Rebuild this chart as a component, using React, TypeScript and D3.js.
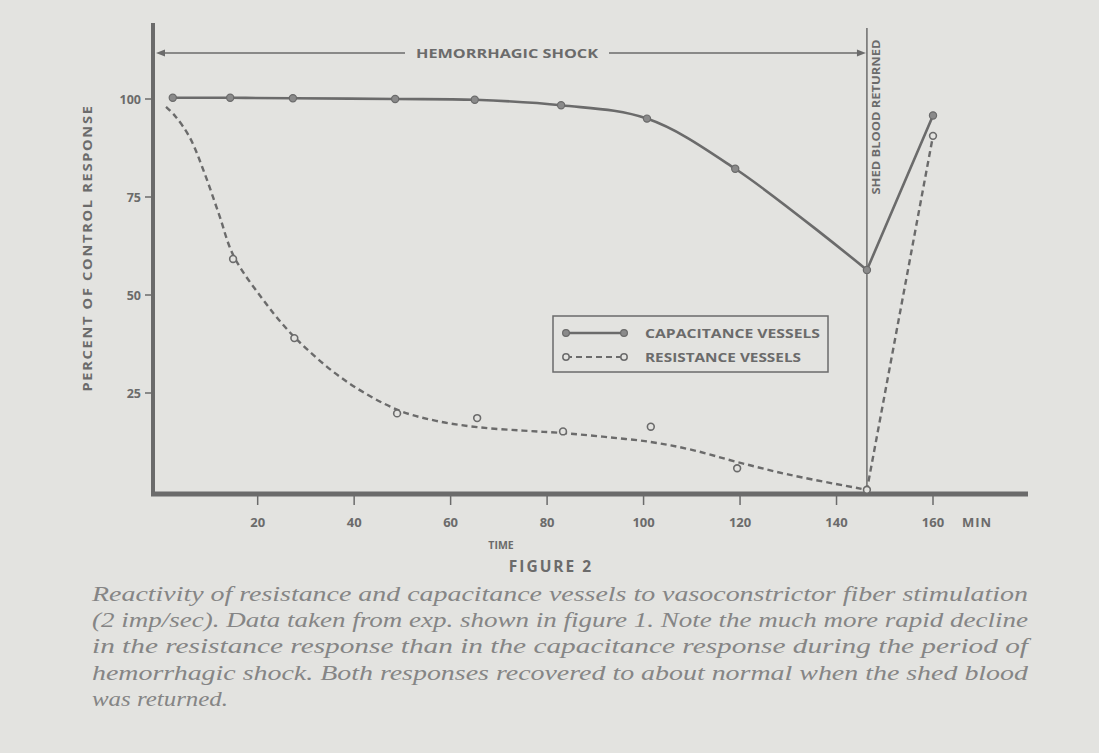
import React from "react";
import * as d3 from "d3";

// capacitance vessels (filled dots, solid line)
const capTime = [2.4, 14.3, 27.3, 48.5, 65, 82.9, 100.7, 119, 146.3, 160];
const capValue = [100.3, 100.3, 100.2, 100, 99.8, 98.4, 95, 82.2, 56.4, 95.8];

// resistance vessels (open dots, dashed line)
const resTime = [14.9, 27.6, 48.9, 65.5, 83.3, 101.5, 119.4, 146.3, 160];
const resValue = [59.2, 39, 19.8, 18.6, 15.2, 16.4, 5.8, 0.3, 90.6];

// hand drawn fit through the resistance points
const resFitTime = [1, 3, 6, 9, 12, 15, 21, 27.6, 38, 49, 57, 65.5, 75, 83, 92, 101.5, 110, 119.4, 130.4, 146.3];
const resFitValue = [98, 95.5, 90, 81, 70.5, 60, 49, 39.3, 28.3, 20.7, 17.9, 16.3, 15.4, 14.8, 13.8, 12.5, 10.5, 7.4, 4.1, 0.3];

const xTicks = [20, 40, 60, 80, 100, 120, 140, 160];
const yTicks = [25, 50, 75, 100];
const shedTime = 146.3;

const captionLines = [
  "Reactivity of resistance and capacitance vessels to vasoconstrictor fiber stimulation",
  "(2 imp/sec). Data taken from exp. shown in figure 1. Note the much more rapid decline",
  "in the resistance response than in the capacitance response during the period of",
  "hemorrhagic shock. Both responses recovered to about normal when the shed blood",
  "was returned.",
];

const ink = "#6b6b6b";
const bg = "#e3e3e0";
const sans = "'Open Sans', 'DejaVu Sans', sans-serif";

export default function App() {
  const x = d3.scaleLinear().domain([0, 160]).range([161.2, 933]);
  const y = d3.scaleLinear().domain([0, 100]).range([491, 99]);

  const axisX = 153;
  const axisY = 494;

  const smooth = d3
    .line<[number, number]>()
    .x((d) => x(d[0]))
    .y((d) => y(d[1]))
    .curve(d3.curveCatmullRom.alpha(0.5));
  const straight = d3
    .line<[number, number]>()
    .x((d) => x(d[0]))
    .y((d) => y(d[1]));

  const capPts: [number, number][] = capTime.map((t, i) => [t, capValue[i]]);
  const resFit: [number, number][] = resFitTime.map((t, i) => [t, resFitValue[i]]);
  const last = resTime.length - 1;

  const capPath = smooth(capPts.slice(0, capPts.length - 1)) + straight(capPts.slice(capPts.length - 2)).replace("M", "L");
  const resPath =
    smooth(resFit) +
    straight([
      resFit[resFit.length - 1],
      [resTime[last], resValue[last]],
    ]).replace("M", "L");

  const xs = x(shedTime);

  return (
    <svg width={1099} height={753} style={{ position: "absolute", left: 0, top: 0, background: bg }}>
      <rect x={0} y={0} width={1099} height={753} fill={bg} />

      {/* axes */}
      <line x1={axisX} y1={23} x2={axisX} y2={axisY + 2} stroke={ink} strokeWidth={4} />
      <line x1={axisX - 2} y1={axisY} x2={1028} y2={axisY} stroke={ink} strokeWidth={5} />

      {yTicks.map((t) => (
        <g key={"y" + t}>
          <line x1={axisX - 8} x2={axisX} y1={y(t)} y2={y(t)} stroke={ink} strokeWidth={1.5} />
          <text x={axisX - 12} y={y(t) + 4.5} textAnchor="end" fontFamily={sans} fontWeight={700} fontSize={12.5} fill={ink}>
            {t}
          </text>
        </g>
      ))}

      {xTicks.map((t) => (
        <g key={"x" + t}>
          <line x1={x(t)} x2={x(t)} y1={axisY + 2} y2={axisY + 11} stroke={ink} strokeWidth={1.5} />
          <text x={x(t)} y={527} textAnchor="middle" fontFamily={sans} fontWeight={700} fontSize={13} fill={ink}>
            {t}
          </text>
        </g>
      ))}
      <text x={x(160) + 29} y={527} fontFamily={sans} fontWeight={700} fontSize={13} fill={ink} letterSpacing={1} textAnchor="start">
        MIN
      </text>

      <text x={501} y={549} textAnchor="middle" fontFamily={sans} fontWeight={700} fontSize={10.5} fill={ink}>
        TIME
      </text>
      <text x={551} y={572} textAnchor="middle" fontFamily={sans} fontWeight={700} fontSize={15.5} fill={ink} letterSpacing={2}>
        FIGURE 2
      </text>

      <text
        transform={`translate(92, 248) rotate(-90)`}
        textAnchor="middle"
        fontFamily={sans}
        fontWeight={700}
        fontSize={13}
        fill={ink}
        letterSpacing={1.5}
        textLength={287}
        lengthAdjust="spacingAndGlyphs"
      >
        PERCENT OF CONTROL RESPONSE
      </text>

      {/* hemorrhagic shock span */}
      <line x1={160} x2={405} y1={53} y2={53} stroke={ink} strokeWidth={1.5} />
      <line x1={609} x2={xs - 6} y1={53} y2={53} stroke={ink} strokeWidth={1.5} />
      <path d={`M${axisX + 3},53 l9,-3.5 l0,7 z`} fill={ink} />
      <path d={`M${xs - 1},53 l-9,-3.5 l0,7 z`} fill={ink} />
      <text
        x={416}
        y={58}
        fontFamily={sans}
        fontWeight={700}
        fontSize={13}
        fill={ink}
        textLength={182}
        lengthAdjust="spacingAndGlyphs"
      >
        HEMORRHAGIC SHOCK
      </text>

      {/* shed blood returned */}
      <line x1={xs} x2={xs} y1={28} y2={axisY} stroke={ink} strokeWidth={1.5} />
      <text
        transform={`translate(${xs + 13.5}, 117) rotate(-90)`}
        textAnchor="middle"
        fontFamily={sans}
        fontWeight={700}
        fontSize={10}
        fill={ink}
        textLength={155}
        lengthAdjust="spacingAndGlyphs"
      >
        SHED BLOOD RETURNED
      </text>

      {/* series */}
      <path d={capPath} fill="none" stroke={ink} strokeWidth={2.6} />
      <path d={resPath} fill="none" stroke={ink} strokeWidth={2.4} strokeDasharray="6,4" />

      {capTime.map((t, i) => (
        <circle key={"c" + i} cx={x(t)} cy={y(capValue[i])} r={3.6} fill="#8a8a8a" stroke={ink} strokeWidth={1.2} />
      ))}
      {resTime.map((t, i) => (
        <circle key={"r" + i} cx={x(t)} cy={y(resValue[i])} r={3.4} fill={bg} stroke={ink} strokeWidth={1.6} />
      ))}

      {/* legend */}
      <rect x={553} y={316} width={275} height={56} fill="none" stroke={ink} strokeWidth={1.5} />
      <line x1={566} x2={624} y1={333} y2={333} stroke={ink} strokeWidth={2.6} />
      <circle cx={566} cy={333} r={3.4} fill="#8a8a8a" stroke={ink} strokeWidth={1.2} />
      <circle cx={624} cy={333} r={3.4} fill="#8a8a8a" stroke={ink} strokeWidth={1.2} />
      <line x1={566} x2={624} y1={357} y2={357} stroke={ink} strokeWidth={2.2} strokeDasharray="6,4" />
      <circle cx={566} cy={357} r={3.2} fill={bg} stroke={ink} strokeWidth={1.5} />
      <circle cx={624} cy={357} r={3.2} fill={bg} stroke={ink} strokeWidth={1.5} />
      <text x={645} y={338} fontFamily={sans} fontWeight={700} fontSize={12.5} fill={ink} textLength={175} lengthAdjust="spacingAndGlyphs">
        CAPACITANCE VESSELS
      </text>
      <text x={645} y={362} fontFamily={sans} fontWeight={700} fontSize={12.5} fill={ink} textLength={156} lengthAdjust="spacingAndGlyphs">
        RESISTANCE VESSELS
      </text>

      {/* caption */}
      {captionLines.map((line, i) => (
        <text
          key={"cap" + i}
          x={92}
          y={601 + i * 26.2}
          fontFamily="'Liberation Serif', 'DejaVu Serif', serif"
          fontStyle="italic"
          fontSize={21}
          fill="#858585"
          textLength={i < captionLines.length - 1 ? 936 : 136}
          lengthAdjust="spacingAndGlyphs"
        >
          {line}
        </text>
      ))}
    </svg>
  );
}
